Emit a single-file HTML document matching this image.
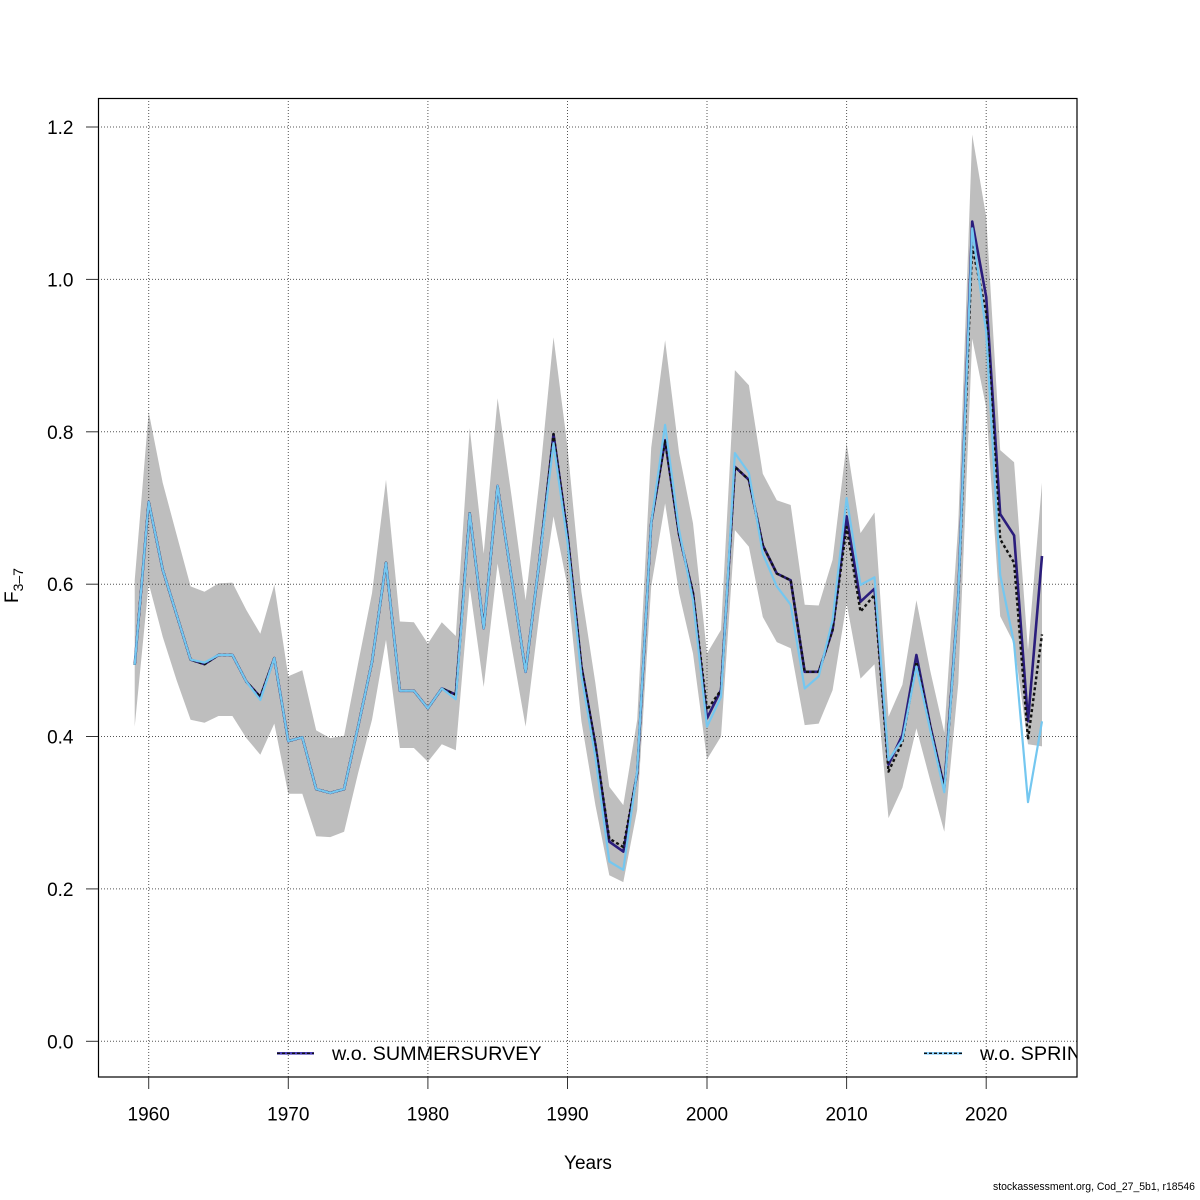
<!DOCTYPE html>
<html>
<head>
<meta charset="utf-8">
<style>
  html, body { margin: 0; padding: 0; background: #ffffff; }
  svg { display: block; }
  text { font-family: "Liberation Sans", Arial, sans-serif; fill: #000; }
</style>
</head>
<body>
<svg width="1200" height="1200" viewBox="0 0 1200 1200" xmlns="http://www.w3.org/2000/svg">
  <defs>
    <clipPath id="plotclip">
      <rect x="98" y="98" width="979" height="979"/>
    </clipPath>
  </defs>
  <rect x="0" y="0" width="1200" height="1200" fill="#ffffff"/>

  <g clip-path="url(#plotclip)">
    <!-- confidence band -->
    <polygon fill="#bebebe" stroke="none" points="
134.7,580.4 148.7,412.0 162.7,482.8 176.6,534.6 190.6,586.4 204.5,591.8 218.5,583.4 232.4,582.6 246.4,610.1 260.3,633.7 274.3,584.9 288.3,676.3 302.3,670.3 316.2,730.4 330.2,738.1 344.1,735.8 358.1,663.4 372.0,593.3 386.0,479.8 399.9,621.5 413.9,622.3 427.9,643.6 441.8,622.3 455.8,636.0 469.7,428.0 483.7,553.7 497.6,398.3 511.6,496.5 525.6,600.2 539.5,479.8 553.5,337.3 567.5,447.0 581.4,591.8 595.4,683.2 609.3,786.8 623.3,805.1 637.2,719.8 651.2,447.8 665.1,340.3 679.1,453.1 693.0,523.2 707.0,653.5 721.0,629.9 734.9,370.1 748.9,385.3 762.8,473.7 776.8,500.3 790.7,505.0 804.7,604.7 818.7,605.5 832.6,559.8 846.6,443.2 860.5,533.1 874.5,512.5 888.5,716.7 902.4,684.7 916.4,600.2 930.3,671.0 944.3,732.7 958.3,523.2 972.2,134.6 986.2,216.9 1000.2,450.1 1014.1,462.3 1028.0,650.4 1042.0,482.8
1042.0,746.4 1028.0,744.2 1014.1,643.6 1000.2,616.2 986.2,407.4 972.2,338.8 958.3,683.2 944.3,831.8 930.3,780.7 916.4,728.2 902.4,787.6 888.5,818.1 874.5,664.2 860.5,678.6 846.6,603.2 832.6,690.1 818.7,723.6 804.7,725.1 790.7,648.2 776.8,642.1 762.8,617.0 748.9,546.8 734.9,530.1 721.0,736.5 707.0,759.4 693.0,653.5 679.1,593.3 665.1,503.4 651.2,586.4 637.2,809.7 623.3,882.1 609.3,875.2 595.4,805.1 581.4,721.3 567.5,586.4 553.5,516.4 539.5,613.1 525.6,726.6 511.6,646.6 497.6,563.6 483.7,687.0 469.7,586.4 455.8,750.2 441.8,744.2 427.9,761.7 413.9,748.0 399.9,748.0 386.0,639.8 372.0,719.8 358.1,773.1 344.1,831.8 330.2,837.1 316.2,836.3 302.3,793.7 288.3,793.7 274.3,723.6 260.3,754.8 246.4,738.1 232.4,716.0 218.5,716.0 204.5,722.8 190.6,719.8 176.6,680.2 162.7,636.7 148.7,583.4 134.7,726.6"/>

    <!-- grid -->
    <g stroke="#555" stroke-width="1" stroke-dasharray="1,2" fill="none">
      <line x1="148.7" y1="98" x2="148.7" y2="1077"/>
      <line x1="288.3" y1="98" x2="288.3" y2="1077"/>
      <line x1="427.9" y1="98" x2="427.9" y2="1077"/>
      <line x1="567.5" y1="98" x2="567.5" y2="1077"/>
      <line x1="707.0" y1="98" x2="707.0" y2="1077"/>
      <line x1="846.6" y1="98" x2="846.6" y2="1077"/>
      <line x1="986.2" y1="98" x2="986.2" y2="1077"/>
      <line x1="98" y1="1041.3" x2="1077" y2="1041.3"/>
      <line x1="98" y1="888.9" x2="1077" y2="888.9"/>
      <line x1="98" y1="736.5" x2="1077" y2="736.5"/>
      <line x1="98" y1="584.2" x2="1077" y2="584.2"/>
      <line x1="98" y1="431.8" x2="1077" y2="431.8"/>
      <line x1="98" y1="279.4" x2="1077" y2="279.4"/>
      <line x1="98" y1="127.0" x2="1077" y2="127.0"/>
    </g>

    <!-- w.o. SUMMERSURVEY (dark) -->
    <polyline fill="none" stroke="#2b1d7c" stroke-width="2.6" stroke-linejoin="round" points="134.7,664.9 148.7,501.9 162.7,569.7 176.6,614.6 190.6,659.6 204.5,664.2 218.5,655.0 232.4,655.0 246.4,681.7 260.3,696.9 274.3,658.1 288.3,741.1 302.3,737.3 316.2,789.1 330.2,792.9 344.1,789.1 358.1,726.6 372.0,661.9 386.0,562.8 399.9,690.8 413.9,690.8 427.9,708.3 441.8,688.5 455.8,694.6 469.7,513.3 483.7,628.3 497.6,485.9 511.6,578.1 525.6,671.8 539.5,559.8 553.5,434.1 567.5,534.6 581.4,666.4 595.4,744.9 609.3,841.7 623.3,851.6 637.2,773.1 651.2,523.2 665.1,440.2 679.1,534.6 693.0,593.3 707.0,718.3 721.0,690.1 734.9,466.8 748.9,479.8 762.8,545.3 776.8,573.5 790.7,580.3 804.7,671.8 818.7,671.8 832.6,629.9 846.6,516.3 860.5,601.7 874.5,588.7 888.5,764.7 902.4,735.0 916.4,655.0 930.3,725.9 944.3,787.6 958.3,595.6 972.2,221.5 986.2,296.9 1000.2,514.1 1014.1,535.4 1028.0,721.3 1042.0,556.0"/>

    <!-- base run (black dotted) -->
    <polyline fill="none" stroke="#111" stroke-width="2.4" stroke-dasharray="3,2.5" stroke-linejoin="round" points="134.7,664.9 148.7,501.9 162.7,569.7 176.6,614.6 190.6,659.6 204.5,664.2 218.5,655.0 232.4,655.0 246.4,681.7 260.3,696.9 274.3,658.1 288.3,741.1 302.3,737.3 316.2,789.1 330.2,792.9 344.1,789.1 358.1,726.6 372.0,661.9 386.0,562.8 399.9,690.8 413.9,690.8 427.9,708.3 441.8,688.5 455.8,694.6 469.7,513.3 483.7,628.3 497.6,485.9 511.6,578.1 525.6,671.8 539.5,559.8 553.5,434.1 567.5,534.6 581.4,666.4 595.4,744.9 609.3,838.6 623.3,847.0 637.2,773.1 651.2,523.2 665.1,440.2 679.1,534.6 693.0,593.3 707.0,709.9 721.0,690.1 734.9,466.8 748.9,479.8 762.8,545.3 776.8,573.5 790.7,580.3 804.7,671.8 818.7,671.8 832.6,629.9 846.6,527.0 860.5,611.6 874.5,594.8 888.5,771.6 902.4,741.9 916.4,661.9 930.3,727.5 944.3,789.0 958.3,597.0 972.2,246.6 986.2,312.9 1000.2,539.2 1014.1,562.8 1028.0,739.6 1042.0,634.4"/>

    <!-- w.o. SPRINGSURVEY (light) -->
    <polyline fill="none" stroke="#74c7f0" stroke-width="2.2" stroke-linejoin="round" points="134.7,664.9 148.7,501.9 162.7,569.7 176.6,614.6 190.6,659.6 204.5,662.6 218.5,655.0 232.4,655.0 246.4,681.7 260.3,700.0 274.3,658.1 288.3,741.1 302.3,737.3 316.2,789.1 330.2,792.9 344.1,789.1 358.1,726.6 372.0,661.9 386.0,562.8 399.9,690.8 413.9,690.8 427.9,708.3 441.8,688.5 455.8,699.2 469.7,513.3 483.7,628.3 497.6,485.9 511.6,578.1 525.6,671.8 539.5,559.8 553.5,443.2 567.5,542.3 581.4,675.6 595.4,757.1 609.3,861.5 623.3,869.9 637.2,770.8 651.2,523.2 665.1,424.9 679.1,530.1 693.0,600.2 707.0,726.6 721.0,696.9 734.9,453.1 748.9,472.9 762.8,553.7 776.8,586.4 790.7,604.7 804.7,688.5 818.7,676.3 832.6,620.0 846.6,498.1 860.5,584.9 874.5,577.3 888.5,760.2 902.4,739.6 916.4,666.4 930.3,730.4 944.3,792.2 958.3,595.6 972.2,228.3 986.2,332.0 1000.2,575.0 1014.1,643.6 1028.0,802.1 1042.0,721.3"/>

    <!-- legend -->
    <line x1="277" y1="1053.3" x2="314" y2="1053.3" stroke="#4b3fb8" stroke-width="2.6"/>
    <line x1="277" y1="1053.3" x2="314" y2="1053.3" stroke="#111" stroke-width="1.4" stroke-dasharray="3,2"/>
    <text x="332" y="1060" font-size="19.8">w.o. SUMMERSURVEY</text>
    <line x1="924" y1="1053.3" x2="962" y2="1053.3" stroke="#87cefa" stroke-width="2.6"/>
    <line x1="924" y1="1053.3" x2="962" y2="1053.3" stroke="#111" stroke-width="1.4" stroke-dasharray="3,2"/>
    <text x="980" y="1060" font-size="19.8">w.o. SPRINGSURVEY</text>
  </g>

  <!-- plot box -->
  <rect x="98.5" y="98.5" width="978.5" height="978.5" fill="none" stroke="#000" stroke-width="1.2"/>

  <!-- x ticks -->
  <g stroke="#333" stroke-width="1">
    <line x1="148.7" y1="1077" x2="148.7" y2="1089"/>
    <line x1="288.3" y1="1077" x2="288.3" y2="1089"/>
    <line x1="427.9" y1="1077" x2="427.9" y2="1089"/>
    <line x1="567.5" y1="1077" x2="567.5" y2="1089"/>
    <line x1="707.0" y1="1077" x2="707.0" y2="1089"/>
    <line x1="846.6" y1="1077" x2="846.6" y2="1089"/>
    <line x1="986.2" y1="1077" x2="986.2" y2="1089"/>
  </g>
  <g font-size="19" text-anchor="middle">
    <text x="148.7" y="1120.5">1960</text>
    <text x="288.3" y="1120.5">1970</text>
    <text x="427.9" y="1120.5">1980</text>
    <text x="567.5" y="1120.5">1990</text>
    <text x="707.0" y="1120.5">2000</text>
    <text x="846.6" y="1120.5">2010</text>
    <text x="986.2" y="1120.5">2020</text>
  </g>

  <!-- y ticks -->
  <g stroke="#333" stroke-width="1">
    <line x1="86" y1="1041.3" x2="98" y2="1041.3"/>
    <line x1="86" y1="888.9" x2="98" y2="888.9"/>
    <line x1="86" y1="736.5" x2="98" y2="736.5"/>
    <line x1="86" y1="584.2" x2="98" y2="584.2"/>
    <line x1="86" y1="431.8" x2="98" y2="431.8"/>
    <line x1="86" y1="279.4" x2="98" y2="279.4"/>
    <line x1="86" y1="127.0" x2="98" y2="127.0"/>
  </g>
  <g font-size="19" text-anchor="end">
    <text x="73.5" y="1048.3">0.0</text>
    <text x="73.5" y="895.9">0.2</text>
    <text x="73.5" y="743.5">0.4</text>
    <text x="73.5" y="591.2">0.6</text>
    <text x="73.5" y="438.8">0.8</text>
    <text x="73.5" y="286.4">1.0</text>
    <text x="73.5" y="134.0">1.2</text>
  </g>

  <!-- axis titles -->
  <text x="588" y="1169" font-size="19" text-anchor="middle">Years</text>
  <text transform="translate(18,603) rotate(-90)" font-size="19">F<tspan font-size="14" dy="5">3–7</tspan></text>

  <!-- footer -->
  <text x="1195" y="1190" font-size="11" text-anchor="end" textLength="202" lengthAdjust="spacingAndGlyphs">stockassessment.org, Cod_27_5b1, r18546</text>
</svg>
</body>
</html>
